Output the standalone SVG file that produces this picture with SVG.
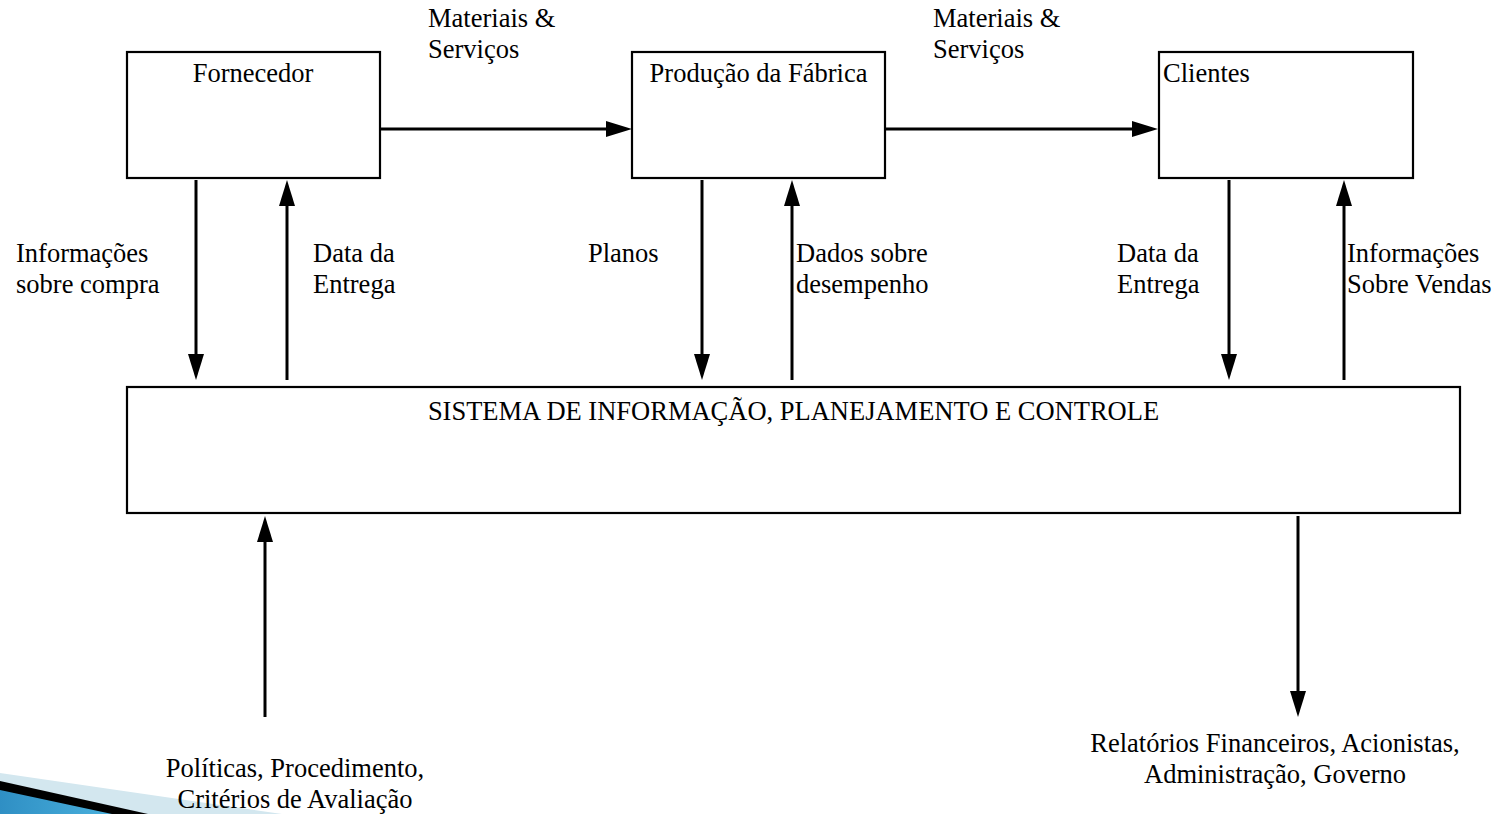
<svg xmlns="http://www.w3.org/2000/svg" width="1505" height="814" viewBox="0 0 1505 814">
<style>
  .box { fill: #ffffff; stroke: #000000; stroke-width: 2.2; }
  text { font-family: 'Liberation Serif', 'DejaVu Serif', serif; font-size: 26.5px; fill: #000000; }
  .c { text-anchor: middle; }
  .conn line { stroke: #000000; stroke-width: 3; marker-end: url(#ah); }
</style>
<defs>
  <marker id="ah" markerUnits="userSpaceOnUse" markerWidth="26" markerHeight="16" refX="2" refY="8" orient="auto">
    <path d="M0,0 L26,8 L0,16 z" fill="#000000"/>
  </marker>
  <linearGradient id="blueg" x1="0" y1="0" x2="1" y2="0">
    <stop offset="0" stop-color="#2f8fc4"/>
    <stop offset="1" stop-color="#4ab0dc"/>
  </linearGradient>
</defs>
<rect width="1505" height="814" fill="#ffffff"/>

<g id="decor">
  <polygon points="0,773 282,814 0,814" fill="#d3e7ef"/>
  <polygon points="0,781 148,814 0,814" fill="#000000"/>
  <polygon points="0,790 112,814 0,814" fill="url(#blueg)"/>
</g>

<g font-family="Liberation Serif, serif">
<g id="fornecedor">
  <rect class="box" x="127" y="52" width="253" height="126"/>
  <text class="c" x="253" y="82">Fornecedor</text>
</g>
<g id="producao">
  <rect class="box" x="632" y="52" width="253" height="126"/>
  <text class="c" x="758.5" y="82">Produção da Fábrica</text>
</g>
<g id="clientes">
  <rect class="box" x="1159" y="52" width="254" height="126"/>
  <text x="1163" y="82">Clientes</text>
</g>
<g id="sistema">
  <rect class="box" x="127" y="387" width="1333" height="126"/>
  <text class="c" x="793.5" y="420">SISTEMA DE INFORMAÇÃO, PLANEJAMENTO E CONTROLE</text>
</g>
<g id="politicas">
  <text class="c" x="295" y="777">Políticas, Procedimento,</text>
  <text class="c" x="295" y="808">Critérios de Avaliação</text>
</g>
<g id="relatorios">
  <text class="c" x="1275" y="752">Relatórios Financeiros, Acionistas,</text>
  <text class="c" x="1275" y="783">Administração, Governo</text>
</g>

<g id="connectors" class="conn">
  <line x1="380" y1="129" x2="608" y2="129"/>
  <line x1="885" y1="129" x2="1134" y2="129"/>
  <line x1="196" y1="180" x2="196" y2="356"/>
  <line x1="287" y1="380" x2="287" y2="204"/>
  <line x1="702" y1="180" x2="702" y2="356"/>
  <line x1="792" y1="380" x2="792" y2="204"/>
  <line x1="1229" y1="180" x2="1229" y2="356"/>
  <line x1="1344" y1="380" x2="1344" y2="204"/>
  <line x1="265" y1="717" x2="265" y2="540"/>
  <line x1="1298" y1="516" x2="1298" y2="693"/>
</g>

<g id="labels">
  <text x="428" y="27">Materiais &amp;</text>
  <text x="428" y="58">Serviços</text>
  <text x="933" y="27">Materiais &amp;</text>
  <text x="933" y="58">Serviços</text>
  <text x="16" y="262">Informações</text>
  <text x="16" y="293">sobre compra</text>
  <text x="313" y="262">Data da</text>
  <text x="313" y="293">Entrega</text>
  <text x="588" y="262">Planos</text>
  <text x="796" y="262">Dados sobre</text>
  <text x="796" y="293">desempenho</text>
  <text x="1117" y="262">Data da</text>
  <text x="1117" y="293">Entrega</text>
  <text x="1347" y="262">Informações</text>
  <text x="1347" y="293">Sobre Vendas</text>
</g>
</g>
</svg>
